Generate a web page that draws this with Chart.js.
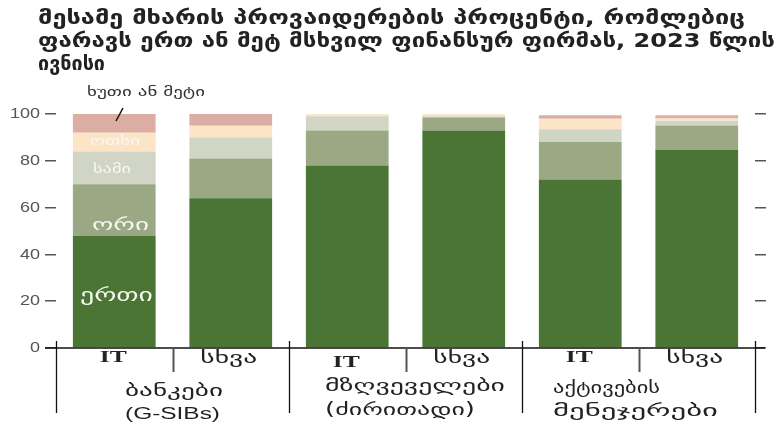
<!DOCTYPE html>
<html>
<head>
<meta charset="utf-8">
<script src="https://cdn.jsdelivr.net/npm/chart.js@4.4.0/dist/chart.umd.min.js"></script>
<style>
  html, body { margin: 0; padding: 0; background: #ffffff; }
  #wrap { position: relative; width: 780px; height: 426px; }
  canvas { display: block; }
</style>
</head>
<body>
<div id="wrap"><canvas id="c" width="780" height="426"></canvas></div>
<script>
// Share of third-party providers serving one or more large financial firms, June 2023
const titleLines = [
  'მესამე მხარის პროვაიდერების პროცენტი, რომლებიც',
  'ფარავს ერთ ან მეტ მსხვილ ფინანსურ ფირმას, 2023 წლის',
  'ივნისი'
];
const categories = ['IT', 'სხვა', 'IT', 'სხვა', 'IT', 'სხვა'];
const groupLabels = [
  ['ბანკები', '(G-SIBs)'],
  ['მზღვეველები', '(ძირითადი)'],
  ['აქტივების', 'მენეჯერები']
];
const seriesNames = ['ერთი', 'ორი', 'სამი', 'ოთხი', 'ხუთი ან მეტი'];
const one      = [48, 64, 78, 93, 72, 84.7];
const two      = [22, 17, 15, 5.5, 16, 10.4];
const three    = [14, 9, 6, 0.5, 5.5, 2];
const four     = [8, 5, 1, 1, 4.5, 1];
const fivePlus = [8, 5, 0, 0, 1.5, 1.4];
const yTicks   = [0, 20, 40, 60, 80, 100];

const colors = ['#4a7535', '#9aa984', '#d1d5c5', '#fce5c6', '#dcaea3'];
const GEO = '"DejaVu Sans", "Noto Sans", sans-serif';
const SANS = '"Liberation Sans", Arial, sans-serif';
const SERIF = '"Liberation Serif", serif';

const datasets = [one, two, three, four, fivePlus].map((vals, i) => ({
  label: seriesNames[i],
  data: vals,
  backgroundColor: colors[i],
  borderWidth: 0,
  barPercentage: 0.71,
  categoryPercentage: 1.0
}));

// draw text stretched horizontally so that it spans the given width
function wideText(ctx, text, x, y, font, align, width) {
  ctx.font = font;
  const w = ctx.measureText(text).width;
  const sx = width ? width / w : 1;
  ctx.save();
  ctx.translate(x, y);
  ctx.scale(sx, 1);
  ctx.textAlign = align;
  ctx.textBaseline = 'middle';
  ctx.fillText(text, 0, 0);
  ctx.restore();
}

const titleWidths = [707, 737, 67];

const decorations = {
  id: 'decorations',
  afterDraw(chart) {
    const ctx = chart.ctx;
    const xs = chart.scales.x;
    const ys = chart.scales.y;
    const area = chart.chartArea;
    const y0 = ys.getPixelForValue(0);
    ctx.save();

    // title
    ctx.fillStyle = '#222';
    titleLines.forEach((t, i) => {
      wideText(ctx, t, 38, 19 + i * 23, 'bold 19px ' + GEO, 'left', titleWidths[i]);
    });

    // y tick labels
    ctx.fillStyle = '#555';
    const nFont = '15px ' + SANS;
    yTicks.forEach(v => {
      ctx.font = nFont;
      const w = ctx.measureText(String(v)).width * 1.2;
      wideText(ctx, String(v), 40, ys.getPixelForValue(v), nFont, 'right', w);
    });

    // baseline
    ctx.strokeStyle = '#111';
    ctx.lineWidth = 1.5;
    ctx.beginPath();
    ctx.moveTo(45, y0);
    ctx.lineTo(765, y0);
    ctx.stroke();

    // dividers between categories and groups
    const n = categories.length;
    for (let i = 0; i <= n; i++) {
      let bx;
      if (i === 0) bx = area.left;
      else if (i === n) bx = area.right;
      else bx = (xs.getPixelForValue(i - 1) + xs.getPixelForValue(i)) / 2;
      bx = Math.round(bx) + 0.5;
      const major = i % 2 === 0;
      ctx.strokeStyle = major ? '#111' : '#555';
      ctx.lineWidth = major ? 1.3 : 2;
      ctx.beginPath();
      ctx.moveTo(bx, major ? y0 - 7 : y0);
      ctx.lineTo(bx, major ? 413 : 372);
      ctx.stroke();
    }

    // category labels
    ctx.fillStyle = '#222';
    categories.forEach((c, i) => {
      const cx = xs.getPixelForValue(i);
      if (c === 'IT') {
        wideText(ctx, c, cx - 1, i === 2 ? 363 : 358, 'bold 16px ' + SERIF, 'center', 27);
      } else {
        wideText(ctx, c, cx - 2, 359, '17px ' + GEO, 'center', 57);
      }
    });

    // group labels
    const gFont = '17px ' + GEO;
    wideText(ctx, groupLabels[0][0], 125, 392, gFont, 'left', 98);
    wideText(ctx, groupLabels[0][1], 125, 415, '16px ' + SANS, 'left', 95);
    wideText(ctx, groupLabels[1][0], 325, 387, gFont, 'left', 180);
    wideText(ctx, groupLabels[1][1], 325, 411, gFont, 'left', 150);
    wideText(ctx, groupLabels[2][0], 553, 389, gFont, 'left', 107);
    wideText(ctx, groupLabels[2][1], 553, 412, gFont, 'left', 165);

    // series labels inside the first bar
    ctx.fillStyle = '#f7f7f2';
    wideText(ctx, seriesNames[3], 90, ys.getPixelForValue(one[0] + two[0] + three[0] + four[0] / 2), '12px ' + GEO, 'left', 50);
    wideText(ctx, seriesNames[2], 93, ys.getPixelForValue(one[0] + two[0] + three[0] / 2 - 1), '12px ' + GEO, 'left', 38);
    wideText(ctx, seriesNames[1], 92, ys.getPixelForValue(one[0] + 4.5), '17px ' + GEO, 'left', 57);
    wideText(ctx, seriesNames[0], 80, ys.getPixelForValue(one[0] * 0.46), '18px ' + GEO, 'left', 73);

    // callout for the top segment
    ctx.fillStyle = '#333';
    wideText(ctx, seriesNames[4], 87, 93, '12px ' + GEO, 'left', 118);
    ctx.strokeStyle = '#111';
    ctx.lineWidth = 1.5;
    ctx.beginPath();
    ctx.moveTo(123, 108);
    ctx.lineTo(116, 121);
    ctx.stroke();

    ctx.restore();
  }
};

new Chart(document.getElementById('c'), {
  type: 'bar',
  data: { labels: categories, datasets },
  options: {
    responsive: false,
    animation: false,
    devicePixelRatio: 1,
    layout: { padding: { top: 114, left: 0, right: 0, bottom: 0 } },
    plugins: { legend: { display: false }, tooltip: { enabled: false } },
    scales: {
      x: {
        stacked: true,
        grid: { display: false },
        border: { display: false },
        ticks: { display: false },
        afterFit(scale) { scale.height = 78; }
      },
      y: {
        stacked: true,
        min: 0, max: 100,
        afterBuildTicks(scale) { scale.ticks = yTicks.map(v => ({ value: v })); },
        ticks: { display: false },
        grid: { drawOnChartArea: false, drawTicks: true, tickLength: 11, color: '#555', lineWidth: 1.5 },
        border: { display: false },
        afterFit(scale) { scale.width = 56; }
      },
      y2: {
        position: 'right',
        min: 0, max: 100,
        afterBuildTicks(scale) { scale.ticks = yTicks.map(v => ({ value: v })); },
        ticks: { display: false },
        grid: { drawOnChartArea: false, drawTicks: true, tickLength: 11, color: '#555', lineWidth: 1.5 },
        border: { display: false },
        afterFit(scale) { scale.width = 25; }
      }
    }
  },
  plugins: [decorations]
});
</script>
</body>
</html>
